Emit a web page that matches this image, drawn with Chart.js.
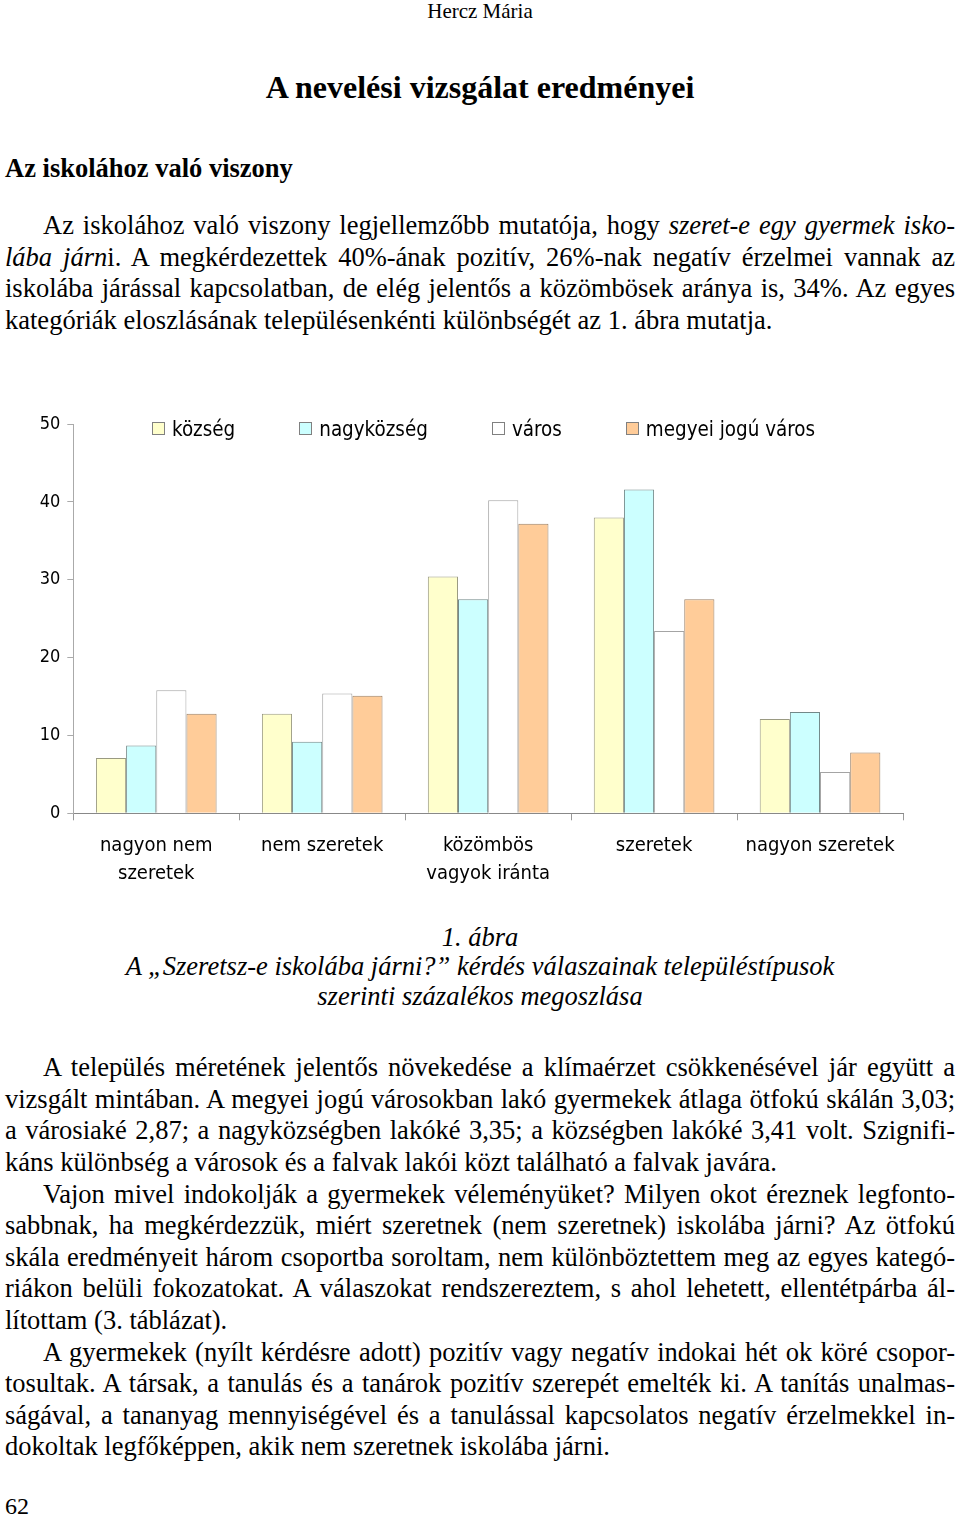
<!DOCTYPE html>
<html lang="hu">
<head>
<meta charset="utf-8">
<title>A nevelési vizsgálat eredményei</title>
<script src="https://cdn.jsdelivr.net/npm/chart.js@4.4.1/dist/chart.umd.min.js"></script>
<style>
    html, body { margin: 0; padding: 0; background: #fff; }
    body {
        width: 960px; height: 1517px; position: relative; overflow: hidden;
        font-family: "Liberation Serif", "Times New Roman", serif; color: #000;
    }
    .line { position: absolute; white-space: nowrap; }
    .center { left: 0; width: 960px; text-align: center; }
    .block { position: absolute; left: 5px; width: 950px; font-size: 26.5px; line-height: 31.6px; }
    .block div { white-space: nowrap; }
    .j { text-align: justify; text-align-last: justify; }
    .ind { padding-left: 38px; }
    #chart-box { position: absolute; left: 0; top: 400px; width: 960px; height: 500px; }
    #legend {
        position: absolute; left: 152px; top: 419px; display: flex;
        font-family: "DejaVu Sans Condensed", "DejaVu Sans", sans-serif; font-size: 20.4px; line-height: 20px;
    }
    #legend .item { display: flex; align-items: flex-start; margin-right: 64px; }
    #legend .box { width: 11px; height: 11px; border: 1px solid #808080; margin: 3px 7px 0 0; }
</style>
</head>
<body>

<div class="line center" style="top:0.7px; font-size:21px; line-height:21px;">Hercz Mária</div>
<div class="line center" style="top:71.2px; font-size:32px; line-height:32px; font-weight:bold;">A nevelési vizsgálat eredményei</div>
<div class="line" style="left:5px; top:154.8px; font-size:26.5px; line-height:26.5px; font-weight:bold;">Az iskolához való viszony</div>

<div class="block" style="top:210.3px;">
    <div class="j ind">Az iskolához való viszony legjellemzőbb mutatója, hogy <i>szeret-e egy gyermek isko-</i></div>
    <div class="j"><i>lába járn</i>i. A megkérdezettek 40%-ának pozitív, 26%-nak negatív érzelmei vannak az</div>
    <div class="j">iskolába járással kapcsolatban, de elég jelentős a közömbösek aránya is, 34%. Az egyes</div>
    <div>kategóriák eloszlásának településenkénti különbségét az 1. ábra mutatja.</div>
</div>

<div id="chart-box"><canvas id="chart" width="960" height="500"></canvas></div>
<div id="legend"></div>

<div class="block" style="top:923.1px; left:0; width:960px; text-align:center; line-height:29.3px; font-style:italic;">
    <div>1. ábra</div>
    <div>A „Szeretsz-e iskolába járni?” kérdés válaszainak településtípusok</div>
    <div>szerinti százalékos megoszlása</div>
</div>

<div class="block" style="top:1052.3px;">
    <div class="j ind">A település méretének jelentős növekedése a klímaérzet csökkenésével jár együtt a</div>
    <div class="j">vizsgált mintában. A megyei jogú városokban lakó gyermekek átlaga ötfokú skálán 3,03;</div>
    <div class="j">a városiaké 2,87; a nagyközségben lakóké 3,35; a községben lakóké 3,41 volt. Szignifi-</div>
    <div>káns különbség a városok és a falvak lakói közt található a falvak javára.</div>
    <div class="j ind">Vajon mivel indokolják a gyermekek véleményüket? Milyen okot éreznek legfonto-</div>
    <div class="j">sabbnak, ha megkérdezzük, miért szeretnek (nem szeretnek) iskolába járni? Az ötfokú</div>
    <div class="j">skála eredményeit három csoportba soroltam, nem különböztettem meg az egyes kategó-</div>
    <div class="j">riákon belüli fokozatokat. A válaszokat rendszereztem, s ahol lehetett, ellentétpárba ál-</div>
    <div>lítottam (3. táblázat).</div>
    <div class="j ind">A gyermekek (nyílt kérdésre adott) pozitív vagy negatív indokai hét ok köré csopor-</div>
    <div class="j">tosultak. A társak, a tanulás és a tanárok pozitív szerepét emelték ki. A tanítás unalmas-</div>
    <div class="j">ságával, a tananyag mennyiségével és a tanulással kapcsolatos negatív érzelmekkel in-</div>
    <div>dokoltak legfőképpen, akik nem szeretnek iskolába járni.</div>
</div>

<div class="line" style="left:5px; top:1493.9px; font-size:24px; line-height:24px;">62</div>

<script>
// --- CHART DATA ---
const categories = [['nagyon nem', 'szeretek'], 'nem szeretek', ['közömbös', 'vagyok iránta'], 'szeretek', 'nagyon szeretek'];
const seriesLabels = ['község', 'nagyközség', 'város', 'megyei jogú város'];
const kozsegValues = [7.1, 12.8, 30.4, 38.0, 12.1];
const nagykozsegValues = [8.7, 9.2, 27.5, 41.6, 13.0];
const varosValues = [15.8, 15.4, 40.2, 23.4, 5.3];
const megyeiValues = [12.8, 15.1, 37.2, 27.5, 7.8];
const yTicks = [0, 10, 20, 30, 40, 50];

// --- STYLES ---
const fillColors = ['#FFFFCC', '#CCFFFF', '#FFFFFF', '#FFCC99'];
const borderColors = ['#9a9a82', '#728888', '#a4a4a4', '#9c8066'];
const seriesValues = [kozsegValues, nagykozsegValues, varosValues, megyeiValues];

// --- LEGEND (html, drawn over the plot area) ---
const legendEl = document.getElementById('legend');
seriesLabels.forEach((label, i) => {
    const item = document.createElement('div');
    item.className = 'item';
    item.innerHTML = `<span class="box" style="background:${fillColors[i]}"></span><span>${label}</span>`;
    legendEl.appendChild(item);
});

// --- CHART ---
Chart.defaults.font.family = '"DejaVu Sans Condensed", "DejaVu Sans", sans-serif';
Chart.defaults.color = '#000';

new Chart(document.getElementById('chart').getContext('2d'), {
    type: 'bar',
    data: {
        labels: categories,
        datasets: seriesLabels.map((label, i) => ({
            label: label,
            data: seriesValues[i],
            backgroundColor: fillColors[i],
            borderColor: borderColors[i],
            borderWidth: 1,
            categoryPercentage: 0.727,
            barPercentage: 1
        }))
    },
    options: {
        responsive: false,
        animation: false,
        devicePixelRatio: 1,
        layout: { padding: { top: 24, right: 57, bottom: 0, left: 0 } },
        plugins: { legend: { display: false }, tooltip: { enabled: false } },
        scales: {
            x: {
                grid: { drawOnChartArea: false, drawTicks: true, tickLength: 7, color: '#999', offset: true },
                border: { color: '#888' },
                ticks: { padding: 11, font: { size: 20, lineHeight: '28.3px' }, maxRotation: 0, autoSkip: false },
                afterFit: (scale) => { scale.height = 86.7; }
            },
            y: {
                min: yTicks[0],
                max: yTicks[yTicks.length - 1],
                afterBuildTicks: (scale) => { scale.ticks = yTicks.map(v => ({ value: v })); },
                grid: { drawOnChartArea: false, drawTicks: true, tickLength: 6, color: '#aaa' },
                border: { color: '#aaa' },
                ticks: { padding: 7, font: { size: 18 } },
                afterFit: (scale) => { scale.width = 73.3; }
            }
        }
    }
});
</script>
</body>
</html>
